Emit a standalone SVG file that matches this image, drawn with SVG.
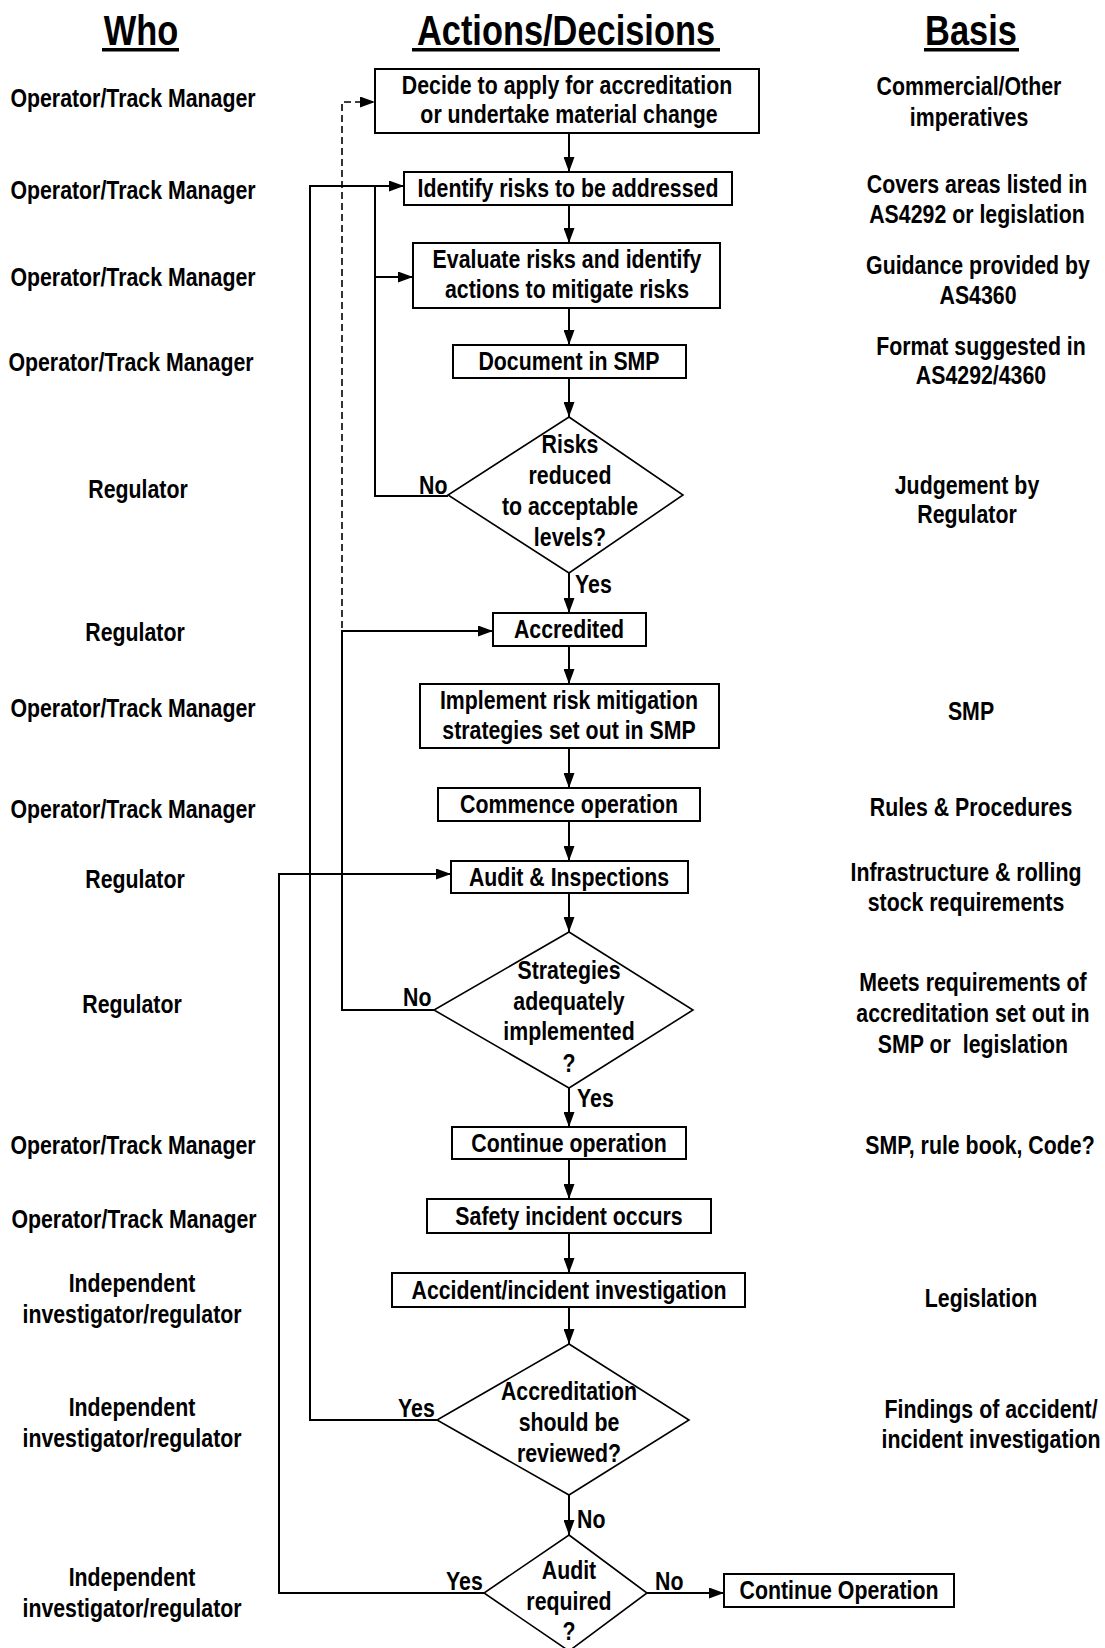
<svg xmlns="http://www.w3.org/2000/svg" width="1105" height="1648" viewBox="0 0 1105 1648">
<style>
text{font-family:"Liberation Sans",Arial,sans-serif;font-weight:bold;font-size:26px;fill:#000;text-anchor:middle}
.hd{font-size:43px}
.lab{text-anchor:start}
.box{fill:#fff;stroke:#000;stroke-width:2}
.dia{fill:#fff;stroke:#000;stroke-width:1.6}
.ln{fill:none;stroke:#000;stroke-width:2}
.dash{fill:none;stroke:#000;stroke-width:1.6;stroke-dasharray:7 4}
</style>
<defs>
<marker id="arr" markerWidth="15" markerHeight="11" refX="15" refY="5.5" orient="auto" markerUnits="userSpaceOnUse"><path d="M0,0 L15,5.5 L0,11 z" fill="#000"/></marker>
</defs>
<rect width="1105" height="1648" fill="#fff"/>

<g id="headers">
<text class="hd" transform="translate(141 45) scale(.8 1)">Who</text><rect x="102" y="48" width="77" height="3.5"/>
<text class="hd" transform="translate(566 45) scale(.8 1)">Actions/Decisions</text><rect x="412" y="48" width="308" height="3.5"/>
<text class="hd" transform="translate(971 45) scale(.8 1)">Basis</text><rect x="924" y="48" width="95" height="3.5"/>
</g>

<g id="who">
<text transform="translate(133 107) scale(.82 1)">Operator/Track Manager</text>
<text transform="translate(133 199) scale(.82 1)">Operator/Track Manager</text>
<text transform="translate(133 286) scale(.82 1)">Operator/Track Manager</text>
<text transform="translate(131 371) scale(.82 1)">Operator/Track Manager</text>
<text transform="translate(138 498) scale(.82 1)">Regulator</text>
<text transform="translate(135 641) scale(.82 1)">Regulator</text>
<text transform="translate(133 717) scale(.82 1)">Operator/Track Manager</text>
<text transform="translate(133 818) scale(.82 1)">Operator/Track Manager</text>
<text transform="translate(135 888) scale(.82 1)">Regulator</text>
<text transform="translate(132 1013) scale(.82 1)">Regulator</text>
<text transform="translate(133 1154) scale(.82 1)">Operator/Track Manager</text>
<text transform="translate(134 1228) scale(.82 1)">Operator/Track Manager</text>
<text transform="translate(132 1292) scale(.82 1)">Independent</text><text transform="translate(132 1323) scale(.82 1)">investigator/regulator</text>
<text transform="translate(132 1416) scale(.82 1)">Independent</text><text transform="translate(132 1447) scale(.82 1)">investigator/regulator</text>
<text transform="translate(132 1586) scale(.82 1)">Independent</text><text transform="translate(132 1617) scale(.82 1)">investigator/regulator</text>
</g>

<g id="basis">
<text transform="translate(969 95) scale(.82 1)">Commercial/Other</text><text transform="translate(969 126) scale(.82 1)">imperatives</text>
<text transform="translate(977 193) scale(.82 1)">Covers areas listed in</text><text transform="translate(977 223) scale(.82 1)">AS4292 or legislation</text>
<text transform="translate(978 274) scale(.82 1)">Guidance provided by</text><text transform="translate(978 304) scale(.82 1)">AS4360</text>
<text transform="translate(981 355) scale(.82 1)">Format suggested in</text><text transform="translate(981 384) scale(.82 1)">AS4292/4360</text>
<text transform="translate(967 494) scale(.82 1)">Judgement by</text><text transform="translate(967 523) scale(.82 1)">Regulator</text>
<text transform="translate(971 720) scale(.82 1)">SMP</text>
<text transform="translate(971 816) scale(.82 1)">Rules &amp; Procedures</text>
<text transform="translate(966 881) scale(.82 1)">Infrastructure &amp; rolling</text><text transform="translate(966 911) scale(.82 1)">stock requirements</text>
<text transform="translate(973 991) scale(.82 1)">Meets requirements of</text><text transform="translate(973 1022) scale(.82 1)">accreditation set out in</text><text transform="translate(973 1053) scale(.82 1)" xml:space="preserve">SMP or  legislation</text>
<text transform="translate(980 1154) scale(.82 1)">SMP, rule book, Code?</text>
<text transform="translate(981 1307) scale(.82 1)">Legislation</text>
<text transform="translate(991 1418) scale(.82 1)">Findings of accident/</text><text transform="translate(991 1448) scale(.82 1)">incident investigation</text>
</g>

<g id="connectors">
<path class="ln" d="M569 133 V172" marker-end="url(#arr)"/>
<path class="ln" d="M569 205 V243" marker-end="url(#arr)"/>
<path class="ln" d="M569 308 V345" marker-end="url(#arr)"/>
<path class="ln" d="M569 378 V417" marker-end="url(#arr)"/>
<path class="ln" d="M569 573 V613" marker-end="url(#arr)"/>
<path class="ln" d="M569 646 V684" marker-end="url(#arr)"/>
<path class="ln" d="M569 748 V788" marker-end="url(#arr)"/>
<path class="ln" d="M569 821 V861" marker-end="url(#arr)"/>
<path class="ln" d="M569 893 V932" marker-end="url(#arr)"/>
<path class="ln" d="M569 1088 V1127" marker-end="url(#arr)"/>
<path class="ln" d="M569 1159 V1199" marker-end="url(#arr)"/>
<path class="ln" d="M569 1233 V1273" marker-end="url(#arr)"/>
<path class="ln" d="M569 1307 V1344" marker-end="url(#arr)"/>
<path class="ln" d="M569 1495 V1535" marker-end="url(#arr)"/>
<path class="dash" d="M342 628 V102 H375" marker-end="url(#arr)"/>
<path class="ln" d="M434 1010 H342 V631 H493" marker-end="url(#arr)"/>
<path class="ln" d="M448 496 H375 V186"/>
<path class="ln" d="M375 277 H413" marker-end="url(#arr)"/>
<path class="ln" d="M437 1420 H310 V186 H404" marker-end="url(#arr)"/>
<path class="ln" d="M484 1593 H279 V874 H451" marker-end="url(#arr)"/>
<path class="ln" d="M647 1593 H724" marker-end="url(#arr)"/>
</g>

<g id="n1"><rect class="box" x="375" y="69" width="384" height="64"/><text transform="translate(567 94) scale(.82 1)">Decide to apply for accreditation</text><text transform="translate(569 123) scale(.82 1)">or undertake material change</text></g>
<g id="n2"><rect class="box" x="404" y="172" width="328" height="33"/><text transform="translate(568 197) scale(.82 1)">Identify risks to be addressed</text></g>
<g id="n3"><rect class="box" x="413" y="243" width="307" height="65"/><text transform="translate(567 268) scale(.82 1)">Evaluate risks and identify</text><text transform="translate(567 298) scale(.82 1)">actions to mitigate risks</text></g>
<g id="n4"><rect class="box" x="453" y="345" width="233" height="33"/><text transform="translate(569 370) scale(.82 1)">Document in SMP</text></g>
<g id="d1"><polygon class="dia" points="569,417 683,495 569,573 448,495"/>
<text transform="translate(570 453) scale(.82 1)">Risks</text><text transform="translate(570 484) scale(.82 1)">reduced</text><text transform="translate(570 515) scale(.82 1)">to acceptable</text><text transform="translate(570 546) scale(.82 1)">levels?</text></g>
<text class="lab" transform="translate(419 494) scale(.82 1)">No</text>
<text class="lab" transform="translate(575 593) scale(.82 1)">Yes</text>
<g id="n5"><rect class="box" x="493" y="613" width="153" height="33"/><text transform="translate(569 638) scale(.82 1)">Accredited</text></g>
<g id="n6"><rect class="box" x="420" y="684" width="299" height="64"/><text transform="translate(569 709) scale(.82 1)">Implement risk mitigation</text><text transform="translate(569 739) scale(.82 1)">strategies set out in SMP</text></g>
<g id="n7"><rect class="box" x="438" y="788" width="262" height="33"/><text transform="translate(569 813) scale(.82 1)">Commence operation</text></g>
<g id="n8"><rect class="box" x="451" y="861" width="237" height="32"/><text transform="translate(569 886) scale(.82 1)">Audit &amp; Inspections</text></g>
<g id="d2"><polygon class="dia" points="569,932 693,1010 569,1088 434,1010"/>
<text transform="translate(569 979) scale(.82 1)">Strategies</text><text transform="translate(569 1010) scale(.82 1)">adequately</text><text transform="translate(569 1040) scale(.82 1)">implemented</text><text transform="translate(569 1072) scale(.82 1)">?</text></g>
<text class="lab" transform="translate(403 1006) scale(.82 1)">No</text>
<text class="lab" transform="translate(577 1107) scale(.82 1)">Yes</text>
<g id="n9"><rect class="box" x="452" y="1127" width="234" height="32"/><text transform="translate(569 1152) scale(.82 1)">Continue operation</text></g>
<g id="n10"><rect class="box" x="427" y="1199" width="284" height="34"/><text transform="translate(569 1225) scale(.82 1)">Safety incident occurs</text></g>
<g id="n11"><rect class="box" x="392" y="1273" width="353" height="34"/><text transform="translate(569 1299) scale(.82 1)">Accident/incident investigation</text></g>
<g id="d3"><polygon class="dia" points="569,1344 689,1420 569,1495 437,1420"/>
<text transform="translate(569 1400) scale(.82 1)">Accreditation</text><text transform="translate(569 1431) scale(.82 1)">should be</text><text transform="translate(569 1462) scale(.82 1)">reviewed?</text></g>
<text class="lab" transform="translate(398 1417) scale(.82 1)">Yes</text>
<text class="lab" transform="translate(577 1528) scale(.82 1)">No</text>
<g id="d4"><polygon class="dia" points="569,1535 647,1593 569,1651 484,1593"/>
<text transform="translate(569 1579) scale(.82 1)">Audit</text><text transform="translate(569 1610) scale(.82 1)">required</text><text transform="translate(569 1640) scale(.82 1)">?</text></g>
<text class="lab" transform="translate(446 1590) scale(.82 1)">Yes</text>
<text class="lab" transform="translate(655 1590) scale(.82 1)">No</text>
<g id="n12"><rect class="box" x="724" y="1574" width="230" height="33"/><text transform="translate(839 1599) scale(.82 1)">Continue Operation</text></g>
</svg>
